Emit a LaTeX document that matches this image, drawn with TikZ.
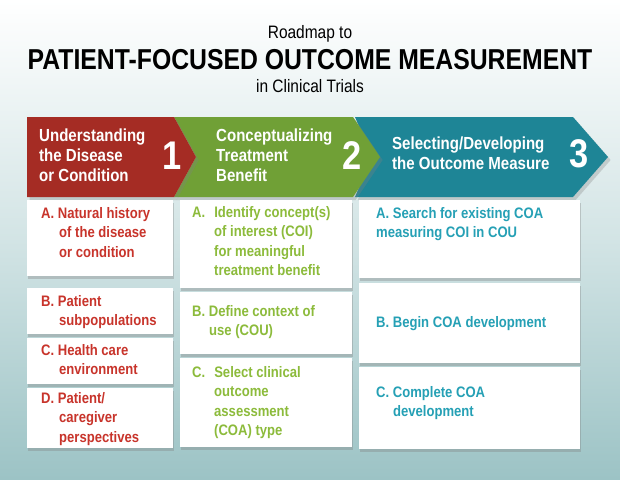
\documentclass[tikz,border=0pt]{standalone}
\usepackage{fontspec}
\setmainfont{Liberation Sans}[FakeStretch=0.86]
\usetikzlibrary{shadows}
\definecolor{cred}{HTML}{A52C24}
\definecolor{cgreen}{HTML}{70A036}
\definecolor{cteal}{HTML}{1E8596}
\definecolor{tred}{HTML}{C8342B}
\definecolor{tgreen}{HTML}{8CBB3B}
\definecolor{tteal}{HTML}{25A0B5}
\definecolor{bgb}{HTML}{9CC3C5}
\tikzset{
 card/.style={fill=white,drop shadow={opacity=0.35,shadow xshift=1pt,shadow yshift=-3pt}},
 ctext/.style={anchor=north west,align=left,font=\bfseries\fontsize{15.2}{19.5}\selectfont,inner sep=0pt},
 head/.style={anchor=west,align=left,text=white,font=\bfseries\fontsize{17.5}{20}\selectfont,inner sep=0pt},
 num/.style={text=white,font=\bfseries\fontsize{40}{40}\selectfont,inner sep=0pt},
}
\begin{document}
\begin{tikzpicture}[x=1pt,y=-1pt]
\shade[top color=white,bottom color=bgb,middle color=white!55!bgb] (0,0) rectangle (620,479);
\useasboundingbox (0,0) rectangle (620,479);
\node (t1) at (310,34) {\fontsize{18}{18}\selectfont Roadmap to};
\node (t2) at (310,60) {\bfseries\fontsize{28.8}{28.8}\selectfont PATIENT-FOCUSED OUTCOME MEASUREMENT};
\node (t3) at (310,86) {\fontsize{18}{18}\selectfont in Clinical Trials};
% chevrons (back to front)
\fill[cteal,drop shadow={opacity=0.3,shadow yshift=-3pt}] (355,117) -- (573,117) -- (608,157) -- (573,197) -- (355,197) -- (372,157) -- cycle;
\fill[cgreen,drop shadow={opacity=0.3,shadow yshift=-3pt}] (174,117) -- (353,117) -- (380,157) -- (353,197) -- (174,197) -- (196,157) -- cycle;
\fill[cred,drop shadow={opacity=0.3,shadow yshift=-3pt}] (27,117) -- (174,117) -- (196,157) -- (174,197) -- (27,197) -- cycle;
\node[head] (h1) at (39,155) {Understanding\\the Disease\\or Condition};
\node[num] (n1) at (172,156) {1};
\node[head] (h2) at (216,155) {Conceptualizing\\Treatment\\Benefit};
\node[num] (n2) at (352,156) {2};
\node[head] (h3) at (392,153) {Selecting/Developing\\the Outcome Measure};
\node[num] (n3) at (579,154) {3};
% column 1
\fill[card] (27,200) rectangle (173,276);
\fill[card] (27,288) rectangle (173,334);
\fill[card] (27,338) rectangle (173,384);
\fill[card] (27,388) rectangle (173,448);
\node[ctext,text=tred] (a1) at (41,207) {A. Natural history\\\hspace*{18pt}of the disease\\\hspace*{18pt}or condition};
\node[ctext,text=tred] (b1) at (41,295) {B. Patient\\\hspace*{18pt}subpopulations};
\node[ctext,text=tred] (c1) at (41,344) {C. Health care\\\hspace*{18pt}environment};
\node[ctext,text=tred] (d1) at (41,392) {D. Patient/\\\hspace*{18pt}caregiver\\\hspace*{18pt}perspectives};
% column 2
\fill[card] (180,200) rectangle (352,288);
\fill[card] (180,292) rectangle (352,354);
\fill[card] (180,358) rectangle (352,447);
\node[ctext,text=tgreen] (a2) at (192,206) {A.\hspace{9pt}Identify concept(s)\\\hspace*{22pt}of interest (COI)\\\hspace*{22pt}for meaningful\\\hspace*{22pt}treatment benefit};
\node[ctext,text=tgreen] (b2) at (192,305) {B. Define context of\\\hspace*{17pt}use (COU)};
\node[ctext,text=tgreen] (c2) at (192,366) {C.\hspace{9pt}Select clinical\\\hspace*{22pt}outcome\\\hspace*{22pt}assessment\\\hspace*{22pt}(COA) type};
% column 3
\fill[card] (359,200) rectangle (580,278);
\fill[card] (359,283) rectangle (580,363);
\fill[card] (359,367) rectangle (580,449);
\node[ctext,text=tteal] (a3) at (376,207) {A. Search for existing COA\\measuring COI in COU};
\node[ctext,text=tteal] (b3) at (376,316) {B. Begin COA development};
\node[ctext,text=tteal] (c3) at (376,386) {C. Complete COA\\\hspace*{17pt}development};
\end{tikzpicture}
\end{document}
